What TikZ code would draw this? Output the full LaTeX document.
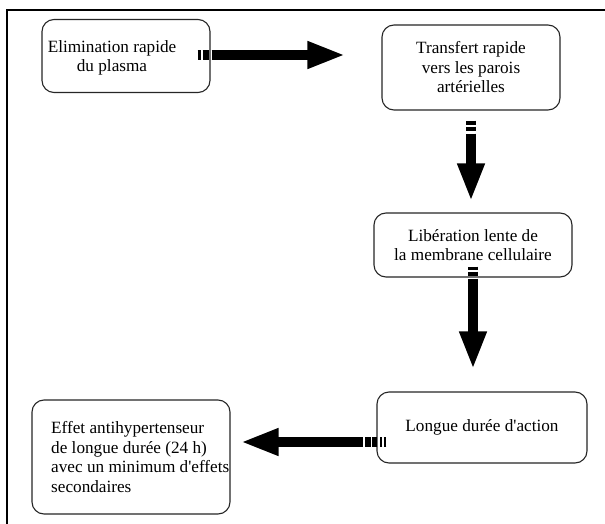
\documentclass[tikz,border=0pt]{standalone}
\usepackage{fontspec}
\setmainfont{Liberation Serif}[Ligatures=TeXOff]
\usetikzlibrary{arrows.meta,calc}
\begin{document}
\begin{tikzpicture}[x=1pt,y=-1pt,
  box/.style={draw=black!85, line width=1.1pt, rounded corners=12pt, fill=white, inner sep=0pt},
  txt/.style={font=\fontsize{17.2}{19.5}\selectfont, align=center, inner sep=0pt},
  bigarrow/.style={line width=10.5pt, -{Triangle[length=38pt,width=25pt]}},
]
\useasboundingbox (0,0) rectangle (605,524);
\draw[line width=1.2pt] (7,524) -- (7,10) -- (605,10);

\node[box, minimum width=168pt, minimum height=73pt] (b1) at (126,56) {};
\node[txt] (t1) at (112,58) {Elimination rapide\\du plasma};
\node[box, txt, minimum width=178pt, minimum height=85pt] (b2) at (471,67.5) {Transfert rapide\\vers les parois\\artérielles};
\node[box, txt, minimum width=198pt, minimum height=64pt] (b3) at (473,245) {Libération lente de\\la membrane cellulaire};
\node[box, txt, minimum width=210pt, minimum height=71pt] (b4) at (482,427.5) {Longue durée d'action};
\node[box, minimum width=198pt, minimum height=114pt] (b5) at (131,457) {};
\node[txt, anchor=west, align=left] (t5) at (51,457) {Effet antihypertenseur\\de longue durée (24 h)\\avec un minimum d'effets\\secondaires};

\draw[bigarrow, dash pattern=on 3pt off 2pt on 6pt off 3pt on 2000pt]
  ($(b1.east)+(-13pt,1pt)$) -- ($(b1.east -| b2.west)+(-36pt,1pt)$);
\draw[bigarrow, dash pattern=on 4pt off 2pt on 4pt off 3pt on 2000pt]
  ($(b2.south)+(0pt,-10pt)$) -- ($(b2.south |- b3.north)+(0pt,11pt)$);
\draw[bigarrow, dash pattern=on 3pt off 2pt on 4pt off 3pt on 2000pt]
  ($(b3.south)+(0pt,11pt)$) -- ($(b3.south |- b4.north)+(0pt,22pt)$);
\draw[bigarrow, dash pattern=on 2pt off 2pt on 2pt off 3pt on 5pt off 1.5pt on 6pt off 2pt on 2000pt]
  ($(b4.west)+(10pt,-14.5pt)$) -- ($(b5.east |- b4.west)+(10pt,-14.5pt)$);
\end{tikzpicture}
\end{document}
